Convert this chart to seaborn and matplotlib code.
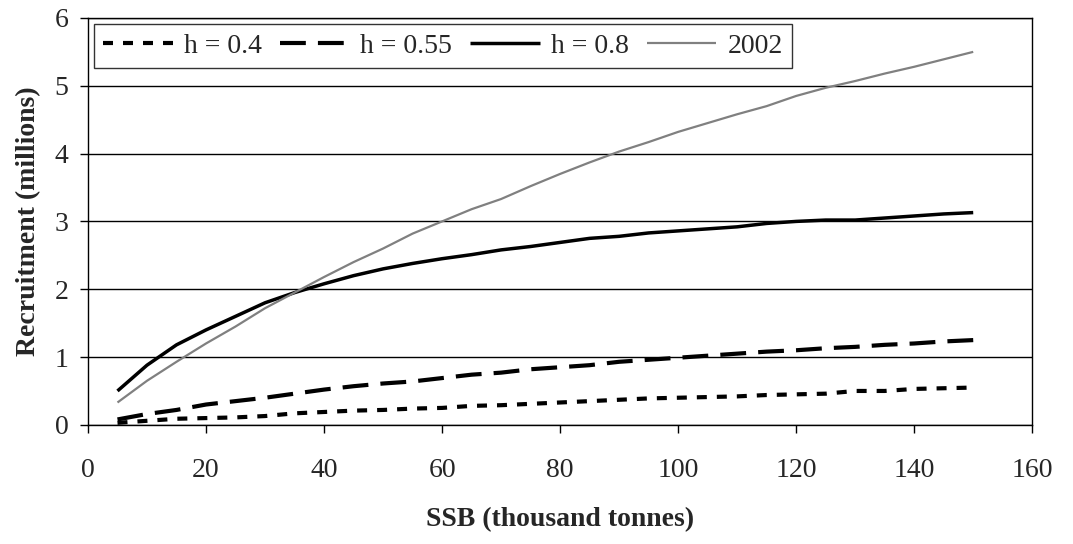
import numpy as np
import pandas as pd
import matplotlib
matplotlib.use("Agg")
import matplotlib.pyplot as plt
import seaborn as sns

ssb = [5, 10, 15, 20, 25, 30, 35, 40, 45, 50, 55, 60, 65, 70, 75,
       80, 85, 90, 95, 100, 105, 110, 115, 120, 125, 130, 135, 140, 145, 150]

rec_h04 = [0.03, 0.06, 0.09, 0.10, 0.11, 0.13, 0.17, 0.19, 0.21, 0.22, 0.24, 0.25, 0.28, 0.29, 0.31,
           0.33, 0.35, 0.37, 0.39, 0.40, 0.41, 0.42, 0.44, 0.45, 0.46, 0.50, 0.50, 0.53, 0.54, 0.55]
rec_h055 = [0.08, 0.16, 0.22, 0.30, 0.35, 0.40, 0.46, 0.52, 0.57, 0.61, 0.64, 0.69, 0.74, 0.77, 0.82,
            0.85, 0.88, 0.93, 0.96, 0.99, 1.02, 1.05, 1.08, 1.10, 1.13, 1.15, 1.18, 1.20, 1.23, 1.25]
rec_h08 = [0.50, 0.88, 1.18, 1.40, 1.60, 1.80, 1.95, 2.08, 2.20, 2.30, 2.38, 2.45, 2.51, 2.58, 2.63,
           2.69, 2.75, 2.78, 2.83, 2.86, 2.89, 2.92, 2.97, 3.00, 3.02, 3.02, 3.05, 3.08, 3.11, 3.13]
rec_2002 = [0.33, 0.65, 0.93, 1.20, 1.45, 1.72, 1.95, 2.18, 2.40, 2.60, 2.82, 3.00, 3.18, 3.33, 3.52,
            3.70, 3.87, 4.03, 4.17, 4.32, 4.45, 4.58, 4.70, 4.85, 4.97, 5.07, 5.18, 5.28, 5.39, 5.50]

labels = ["h = 0.4", "h = 0.55", "h = 0.8", "2002"]

sns.set_style("white")
plt.rcParams["font.family"] = ["Liberation Serif", "DejaVu Serif"]

fig = plt.figure(figsize=(10.73, 5.44), dpi=100)
ax = fig.add_axes([0.082, 0.219, 0.880, 0.748])

styles = [
    dict(color="black", lw=3.0, dashes=(2.4, 2.4)),
    dict(color="black", lw=3.0, dashes=(6.2, 2.9)),
    dict(color="black", lw=2.5, dashes=None),
    dict(color="#808080", lw=1.6, dashes=None),
]
series = [rec_h04, rec_h055, rec_h08, rec_2002]

for lab, vals, st in zip(labels, series, styles):
    df = pd.DataFrame({"ssb": ssb, "rec": vals})
    sns.lineplot(data=df, x="ssb", y="rec", ax=ax, color=st["color"],
                 linewidth=st["lw"], label=lab)
    l = ax.get_lines()[-1]
    if st["dashes"] is not None:
        l.set_dashes(st["dashes"])
    l.set_solid_capstyle("butt")
    l.set_dash_capstyle("butt")

ax.set_xlim(0, 160)
ax.set_ylim(0, 6)
ax.set_xticks(range(0, 161, 20))
ax.set_yticks(range(0, 7))
ax.yaxis.grid(True, color="black", linewidth=1.0)
ax.xaxis.grid(False)
for s in ax.spines.values():
    s.set_color("black")
    s.set_linewidth(1.0)
ax.tick_params(axis="both", direction="out", length=6, width=1, color="black",
               labelsize=20, bottom=True, left=True)
ax.tick_params(axis="y", pad=8)
ax.tick_params(axis="x", pad=18)

ax.set_xlabel("SSB (thousand tonnes)", fontsize=20, fontweight="bold", labelpad=17)
ax.set_ylabel("Recruitment (millions)", fontsize=20, fontweight="bold", labelpad=10)

leg = ax.legend(loc="upper left", ncol=4, fontsize=20, frameon=True, fancybox=False,
                handlelength=2.5, handletextpad=0.4, columnspacing=0.65,
                borderpad=0.35, borderaxespad=0.2)
leg.get_frame().set_edgecolor("black")
leg.get_frame().set_linewidth(1.0)

fig.savefig("out.png", dpi=100)
